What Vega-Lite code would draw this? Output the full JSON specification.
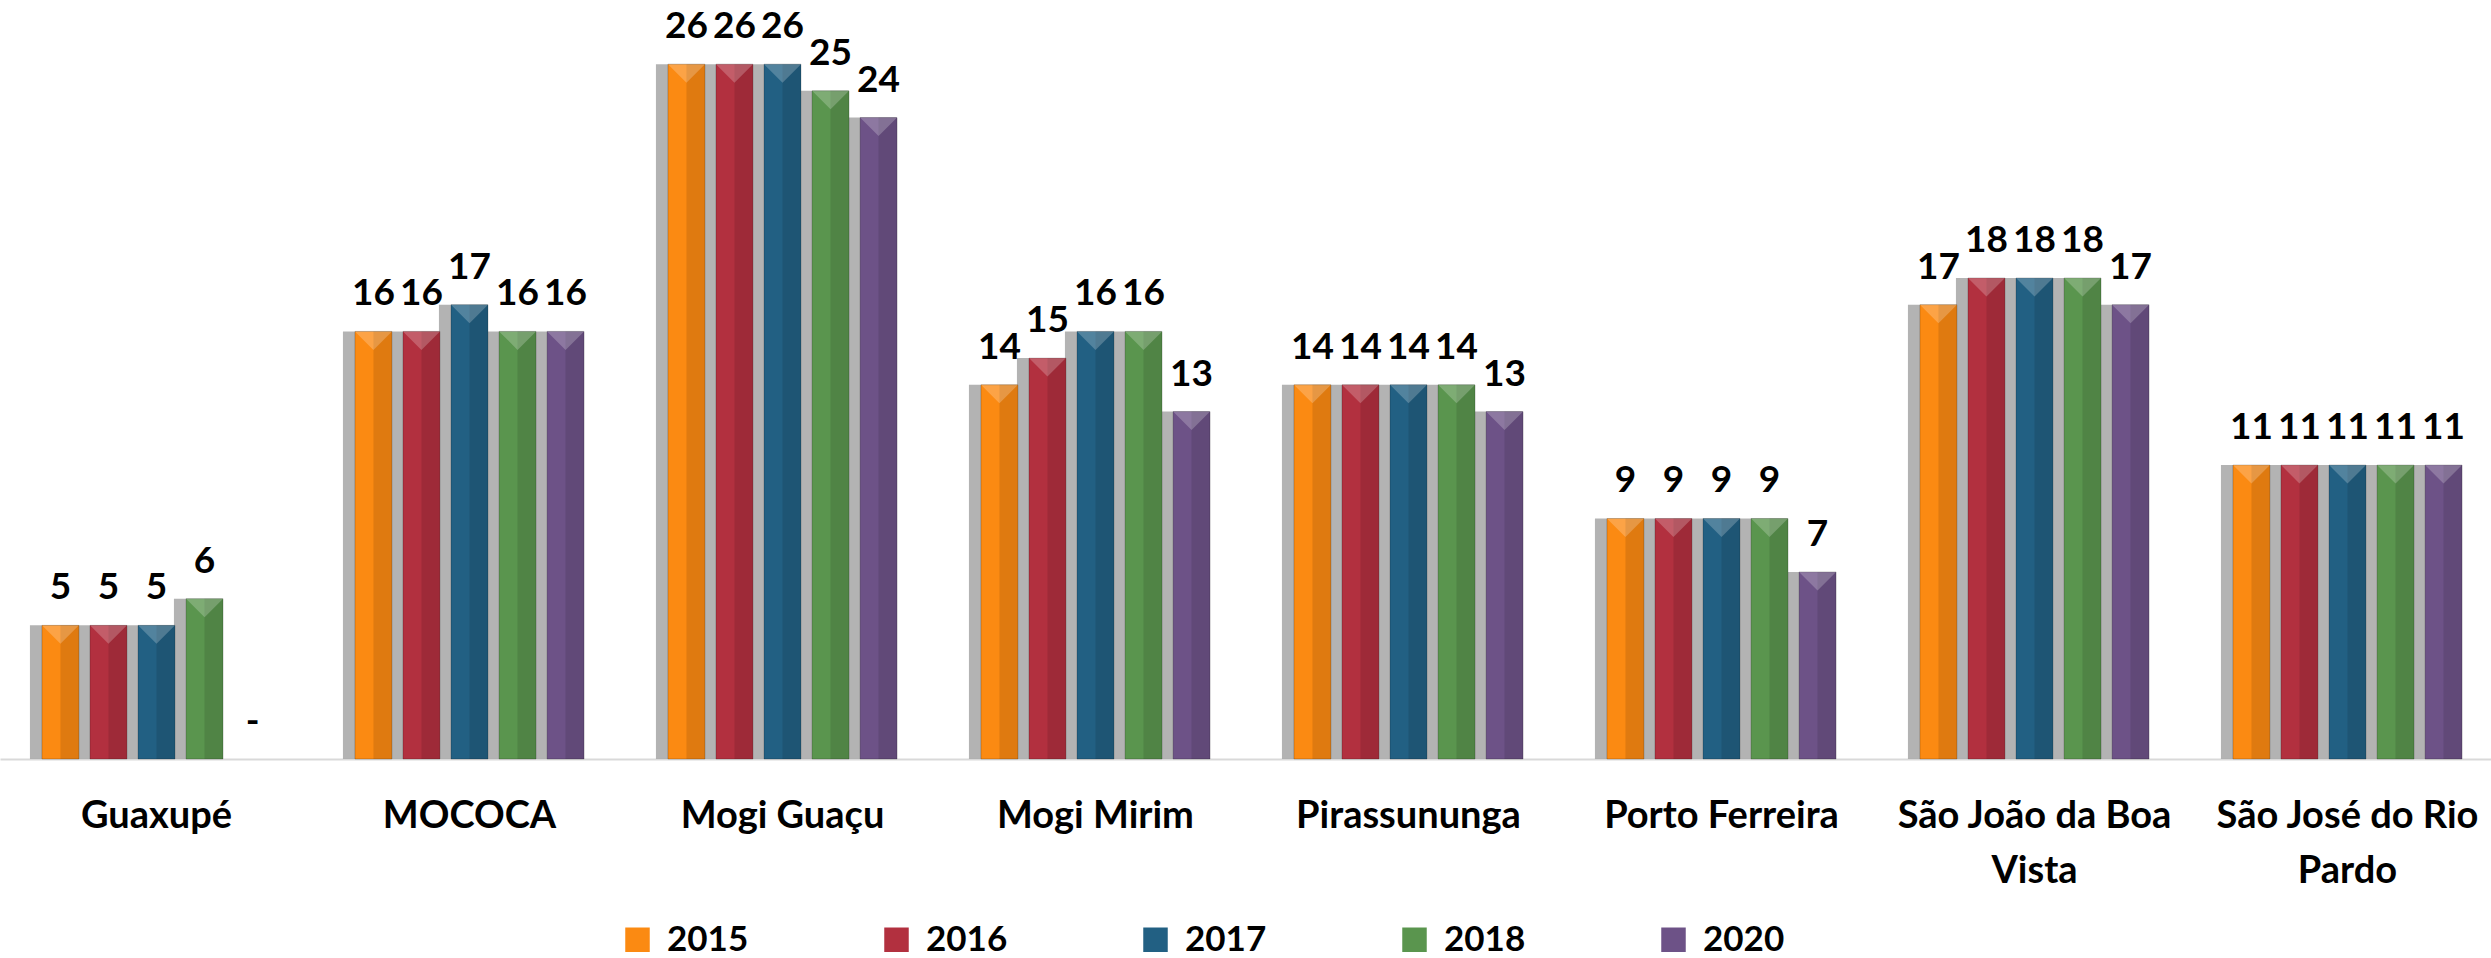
{
  "$schema": "https://vega.github.io/schema/vega-lite/v6.json",
  "width": 2504,
  "height": 759,
  "padding": 0,
  "background": "white",
  "config": {
    "view": {"stroke": null},
    "font": "Lato"
  },
  "data": {
    "values": [
      {"cidade": "Guaxupé", "ano": "2015", "valor": 5, "rotulo": "5"},
      {"cidade": "Guaxupé", "ano": "2016", "valor": 5, "rotulo": "5"},
      {"cidade": "Guaxupé", "ano": "2017", "valor": 5, "rotulo": "5"},
      {"cidade": "Guaxupé", "ano": "2018", "valor": 6, "rotulo": "6"},
      {"cidade": "Guaxupé", "ano": "2020", "valor": 0, "rotulo": "-"},
      {"cidade": "MOCOCA", "ano": "2015", "valor": 16, "rotulo": "16"},
      {"cidade": "MOCOCA", "ano": "2016", "valor": 16, "rotulo": "16"},
      {"cidade": "MOCOCA", "ano": "2017", "valor": 17, "rotulo": "17"},
      {"cidade": "MOCOCA", "ano": "2018", "valor": 16, "rotulo": "16"},
      {"cidade": "MOCOCA", "ano": "2020", "valor": 16, "rotulo": "16"},
      {"cidade": "Mogi Guaçu", "ano": "2015", "valor": 26, "rotulo": "26"},
      {"cidade": "Mogi Guaçu", "ano": "2016", "valor": 26, "rotulo": "26"},
      {"cidade": "Mogi Guaçu", "ano": "2017", "valor": 26, "rotulo": "26"},
      {"cidade": "Mogi Guaçu", "ano": "2018", "valor": 25, "rotulo": "25"},
      {"cidade": "Mogi Guaçu", "ano": "2020", "valor": 24, "rotulo": "24"},
      {"cidade": "Mogi Mirim", "ano": "2015", "valor": 14, "rotulo": "14"},
      {"cidade": "Mogi Mirim", "ano": "2016", "valor": 15, "rotulo": "15"},
      {"cidade": "Mogi Mirim", "ano": "2017", "valor": 16, "rotulo": "16"},
      {"cidade": "Mogi Mirim", "ano": "2018", "valor": 16, "rotulo": "16"},
      {"cidade": "Mogi Mirim", "ano": "2020", "valor": 13, "rotulo": "13"},
      {"cidade": "Pirassununga", "ano": "2015", "valor": 14, "rotulo": "14"},
      {"cidade": "Pirassununga", "ano": "2016", "valor": 14, "rotulo": "14"},
      {"cidade": "Pirassununga", "ano": "2017", "valor": 14, "rotulo": "14"},
      {"cidade": "Pirassununga", "ano": "2018", "valor": 14, "rotulo": "14"},
      {"cidade": "Pirassununga", "ano": "2020", "valor": 13, "rotulo": "13"},
      {"cidade": "Porto Ferreira", "ano": "2015", "valor": 9, "rotulo": "9"},
      {"cidade": "Porto Ferreira", "ano": "2016", "valor": 9, "rotulo": "9"},
      {"cidade": "Porto Ferreira", "ano": "2017", "valor": 9, "rotulo": "9"},
      {"cidade": "Porto Ferreira", "ano": "2018", "valor": 9, "rotulo": "9"},
      {"cidade": "Porto Ferreira", "ano": "2020", "valor": 7, "rotulo": "7"},
      {"cidade": "São João da Boa Vista", "ano": "2015", "valor": 17, "rotulo": "17"},
      {"cidade": "São João da Boa Vista", "ano": "2016", "valor": 18, "rotulo": "18"},
      {"cidade": "São João da Boa Vista", "ano": "2017", "valor": 18, "rotulo": "18"},
      {"cidade": "São João da Boa Vista", "ano": "2018", "valor": 18, "rotulo": "18"},
      {"cidade": "São João da Boa Vista", "ano": "2020", "valor": 17, "rotulo": "17"},
      {"cidade": "São José do Rio Pardo", "ano": "2015", "valor": 11, "rotulo": "11"},
      {"cidade": "São José do Rio Pardo", "ano": "2016", "valor": 11, "rotulo": "11"},
      {"cidade": "São José do Rio Pardo", "ano": "2017", "valor": 11, "rotulo": "11"},
      {"cidade": "São José do Rio Pardo", "ano": "2018", "valor": 11, "rotulo": "11"},
      {"cidade": "São José do Rio Pardo", "ano": "2020", "valor": 11, "rotulo": "11"}
    ]
  },
  "encoding": {
    "x": {
      "field": "cidade",
      "type": "nominal",
      "sort": null,
      "scale": {"paddingInner": 0.268, "paddingOuter": 0.134},
      "axis": {
        "title": null,
        "labelAngle": 0,
        "labelFont": "Lato",
        "labelFontSize": 38,
        "labelFontWeight": "bold",
        "labelColor": "#000000",
        "labelPadding": 38,
        "labelLineHeight": 55,
        "labelBaseline": "top",
        "labelLimit": 400,
        "ticks": false,
        "domainColor": "#d9d9d9",
        "domainWidth": 2,
        "labelExpr": "datum.value == 'São João da Boa Vista' ? ['São João da Boa', 'Vista'] : datum.value == 'São José do Rio Pardo' ? ['São José do Rio', 'Pardo'] : datum.value"
      }
    },
    "y": {
      "field": "valor",
      "type": "quantitative",
      "scale": {"domain": [0, 28.4], "nice": false},
      "axis": null
    }
  },
  "layer": [
    {
      "transform": [{"filter": "datum.valor > 0"}],
      "mark": {"type": "bar", "color": "#a6a6a6", "opacity": 0.85},
      "encoding": {
        "xOffset": {
          "field": "ano",
          "type": "nominal",
          "scale": {"type": "band", "range": [-12, 228], "paddingInner": 0, "paddingOuter": 0}
        }
      }
    },
    {
      "mark": {"type": "bar", "stroke": "#000000", "strokeWidth": 1},
      "encoding": {
        "xOffset": {
          "field": "ano",
          "type": "nominal",
          "scale": {"type": "band", "paddingInner": 0.23, "paddingOuter": 0}
        },
        "color": {
          "field": "ano",
          "type": "nominal",
          "scale": {
            "domain": ["2015", "2016", "2017", "2018", "2020"],
            "range": ["#FB8A12", "#B2303F", "#226083", "#5A954E", "#6D5287"]
          },
          "legend": {
            "title": null,
            "orient": "none",
            "direction": "horizontal",
            "legendX": 620,
            "legendY": 922,
            "symbolType": "square",
            "symbolSize": 600,
            "symbolStrokeWidth": 0,
            "symbolOpacity": 1,
            "labelFont": "Lato",
            "labelFontSize": 35,
            "labelFontWeight": "bold",
            "labelColor": "#000000",
            "labelOffset": 12,
            "columnPadding": 130,
            "padding": 0
          }
        },
        "strokeOpacity": {
          "condition": {"test": "datum.valor == 0", "value": 0},
          "value": 0.2
        }
      }
    },
    {
      "transform": [{"filter": "datum.valor > 0"}],
      "mark": {"type": "bar", "color": "#000000", "opacity": 0.11},
      "encoding": {
        "xOffset": {
          "field": "ano",
          "type": "nominal",
          "scale": {"type": "band", "range": [18.5, 229], "paddingInner": 0.6146, "paddingOuter": 0}
        }
      }
    },
    {
      "transform": [{"filter": "datum.valor > 0"}],
      "mark": {"type": "point", "shape": "M-1,0L1,0L0,1Z", "size": 1369, "filled": true, "color": "#ffffff", "opacity": 0.22, "strokeWidth": 0},
      "encoding": {
        "xOffset": {
          "field": "ano",
          "type": "nominal",
          "scale": {"type": "band", "paddingInner": 0.23, "paddingOuter": 0}
        }
      }
    },
    {
      "mark": {"type": "text", "baseline": "bottom", "dy": -18, "font": "Lato", "fontSize": 37, "fontWeight": "bold", "color": "#000000"},
      "encoding": {
        "xOffset": {
          "field": "ano",
          "type": "nominal",
          "scale": {"type": "band", "paddingInner": 0.23, "paddingOuter": 0}
        },
        "text": {"field": "rotulo"}
      }
    }
  ],
  "resolve": {"scale": {"xOffset": "independent"}}
}
